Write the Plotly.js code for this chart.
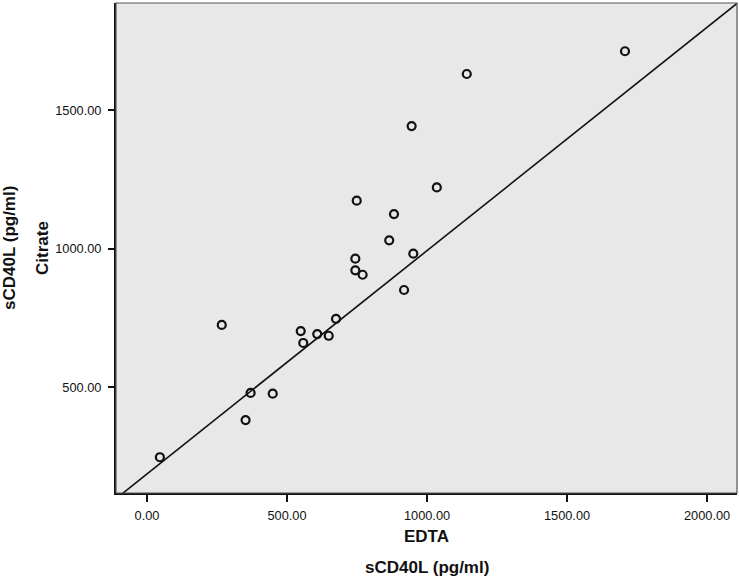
<!DOCTYPE html>
<html>
<head>
<meta charset="utf-8">
<script src="https://cdn.plot.ly/plotly-3.0.1.min.js"></script>
<style>
  html, body { margin: 0; padding: 0; background: #ffffff; }
  #chart { width: 739px; height: 578px; }
</style>
</head>
<body>
<div id="chart"></div>
<script>
// sCD40L (pg/ml) measured in EDTA (x) and citrate (y) plasma
const edta = [1707, 1142, 945, 1035, 749, 882, 865, 951, 744, 744, 770, 918,
              267, 675, 549, 608, 649, 558, 370, 449, 352, 46];
const citrate = [1712, 1630, 1442, 1221, 1173, 1125, 1030, 982, 964, 922, 906, 851,
                 725, 747, 703, 692, 686, 660, 480, 477, 382, 248];

// reference line drawn on the chart (end points)
const refLineX = [-130, 2110];
const refLineY = [83, 1887];

// axis ticks
const xTickVals = [0, 500, 1000, 1500, 2000];
const xTickText = ['0.00', '500.00', '1000.00', '1500.00', '2000.00'];
const yTickVals = [500, 1000, 1500];
const yTickText = ['500.00', '1000.00', '1500.00'];

const FONT = 'Liberation Sans, Arial, sans-serif';

const traces = [
  {
    x: refLineX, y: refLineY,
    type: 'scatter', mode: 'lines',
    line: { color: '#111111', width: 1.6 },
    hoverinfo: 'skip', showlegend: false
  },
  {
    x: edta, y: citrate,
    type: 'scatter', mode: 'markers',
    marker: { symbol: 'circle-open', size: 8, color: '#111111', line: { width: 2.2, color: '#111111' } },
    showlegend: false
  }
];

const layout = {
  width: 739, height: 578,
  margin: { l: 116, r: 2, t: 3, b: 85 },
  paper_bgcolor: '#ffffff',
  plot_bgcolor: '#e8e8e8',
  font: { family: FONT, color: '#111111' },
  showlegend: false,
  xaxis: {
    range: [-110.7, 2107],
    tickvals: xTickVals, ticktext: xTickText,
    ticks: 'outside', ticklen: 7, tickwidth: 2, tickcolor: '#111111',
    showline: true, linewidth: 2, linecolor: '#111111',
    showgrid: false, zeroline: false,
    tickfont: { family: FONT, size: 12.8, color: '#111111' },
    ticklabelstandoff: 3,
    title: { text: '<b>EDTA</b>', font: { family: FONT, size: 17, color: '#111111' }, standoff: 8 },
    automargin: false
  },
  yaxis: {
    range: [119, 1886],
    tickvals: yTickVals, ticktext: yTickText,
    ticks: 'outside', ticklen: 6, tickwidth: 2, tickcolor: '#111111',
    showline: true, linewidth: 2, linecolor: '#111111',
    showgrid: false, zeroline: false,
    tickfont: { family: FONT, size: 12.8, color: '#111111' },
    ticklabelstandoff: 4,
    title: { text: '<b>Citrate</b>', font: { family: FONT, size: 17, color: '#111111' }, standoff: 2 },
    automargin: false
  },
  shapes: [
    {
      type: 'rect', xref: 'paper', yref: 'paper', x0: 0, x1: 1, y0: 0, y1: 1,
      line: { color: '#555555', width: 1.2 }, fillcolor: 'rgba(0,0,0,0)', layer: 'above'
    }
  ],
  annotations: [
    {
      text: '<b>sCD40L (pg/ml)</b>', xref: 'paper', yref: 'paper',
      x: 0.5, y: -(567 - 493) / 490, xanchor: 'center', yanchor: 'middle',
      showarrow: false, font: { family: FONT, size: 17, color: '#111111' }
    },
    {
      text: '<b>sCD40L (pg/ml)</b>', xref: 'paper', yref: 'paper',
      x: -(116 - 9) / 621, y: 0.5, xanchor: 'center', yanchor: 'middle', textangle: -90,
      showarrow: false, font: { family: FONT, size: 17, color: '#111111' }
    }
  ]
};

Plotly.newPlot('chart', traces, layout, { displayModeBar: false, staticPlot: true });
</script>
</body>
</html>
